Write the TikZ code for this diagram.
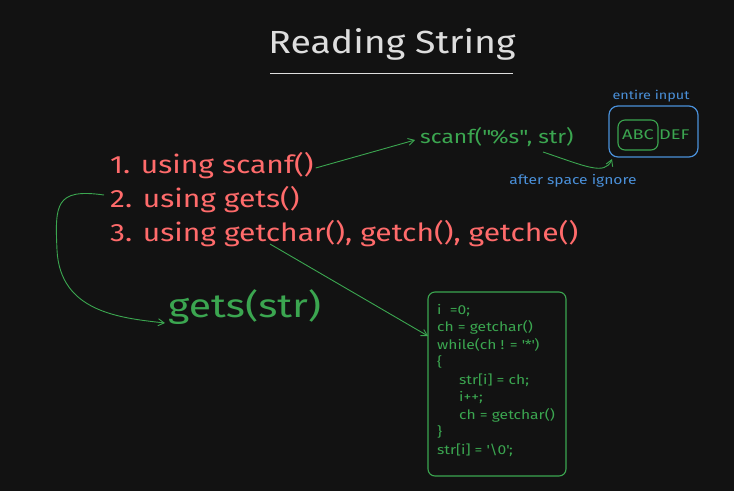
\documentclass[tikz,border=0pt]{standalone}
\usepackage{fontspec}
\setmainfont{Fira Sans}
\newfontfamily\handA{Fira Sans}[FakeStretch=1.2]
\newfontfamily\handB{Fira Sans}[FakeStretch=1.17]
\newfontfamily\handC{Fira Sans}[FakeStretch=1.24]
\newfontfamily\handD{Fira Sans}[FakeStretch=1.3]
\usetikzlibrary{arrows.meta}
\definecolor{bgc}{HTML}{121212}
\definecolor{redc}{HTML}{FF6B6B}
\definecolor{greenc}{HTML}{3BA650}
\definecolor{bluec}{HTML}{4A90D9}
\definecolor{titlec}{HTML}{DEDEDE}
\tikzset{
  redtxt/.style={text=redc, font=\handA\fontsize{25}{28}\selectfont, anchor=west, inner sep=0pt},
  greentxt/.style={text=greenc, anchor=west, inner sep=0pt},
  conn/.style={draw=greenc, line width=0.9pt, -{Straight Barb[length=6pt,width=7pt]}},
  bluebox/.style={draw=bluec, line width=1.2pt, rounded corners=9pt},
  greenbox/.style={draw=greenc, line width=1.1pt, rounded corners=7pt},
}
\begin{document}
\begin{tikzpicture}[x=1pt,y=-1pt]
\fill[bgc] (0,0) rectangle (734,491);
\useasboundingbox (0,0) rectangle (734,491);
% title
\node[text=titlec, font=\handB\fontsize{32}{36}\selectfont, inner sep=0pt] (title) at (392,44) {Reading String};
\draw[titlec, line width=1pt] (270,73) -- (513,73);
% red list
\node[redtxt] (l1) at (110,166) {1. using scanf()};
\node[redtxt] (l2) at (110,200) {2. using gets()};
\node[redtxt] (l3) at (110,234) {3. using getchar(), getch(), getche()};
% gets(str)
\node[greentxt, font=\handC\fontsize{33}{36}\selectfont] (gets) at (168,307) {gets(str)};
% scanf
\node[greentxt, font=\handA\fontsize{19}{22}\selectfont] (scanf) at (420,137) {scanf(\textquotedbl\%s\textquotedbl, str)};
% entire input box
\node[text=bluec, font=\handA\fontsize{12}{14}\selectfont, inner sep=0pt] (entire) at (651,96) {entire input};
\draw[bluebox] (609,106) rectangle (698,157);
\node[greenbox, minimum width=40pt, minimum height=30pt, inner sep=0pt, text=greenc, font=\handD\fontsize{14}{16}\selectfont] (abc) at (638,135) {ABC};
\node[greentxt, font=\handD\fontsize{14}{16}\selectfont] (def) at (659,135) {DEF};
\node[text=bluec, font=\handA\fontsize{13}{15}\selectfont, inner sep=0pt] (after) at (573,181) {after space ignore};
% code box
\node[greenbox, draw, minimum width=138pt, minimum height=184pt, inner sep=0pt] (code) at (497,384) {};
\node[text=greenc, font=\handA\fontsize{13}{17.5}\selectfont, align=left, anchor=north west, inner sep=0pt] (codetxt) at (437,304) {%
i\ \ =0;\\
ch = getchar()\\
while(ch ! = \textquotesingle*\textquotesingle)\\
\{\\
\hspace*{22pt}str[i] = ch;\\
\hspace*{22pt}i++;\\
\hspace*{22pt}ch = getchar()\\
\}\\
str[i] = \textquotesingle\textbackslash0\textquotesingle;};
% connectors
\coordinate (c1e) at (415,140);
\draw[conn] (l1.east) ++(2,2) -- (c1e);
\coordinate (c2s) at (104,195);
\coordinate (c2e) at (165,323);
\draw[conn] (c2s) .. controls (55,188) and (55,205) .. (57,250) .. controls (60,312) and (120,318) .. (c2e);
\coordinate (c3s) at (270,244);
\coordinate (c3e) at (428,336);
\draw[conn] (c3s) -- (c3e);
\coordinate (c4s) at (543,152);
\coordinate (c4e) at (612,159);
\draw[conn] (c4s) .. controls (585,166) and (605,176) .. (c4e);
\end{tikzpicture}
\end{document}
